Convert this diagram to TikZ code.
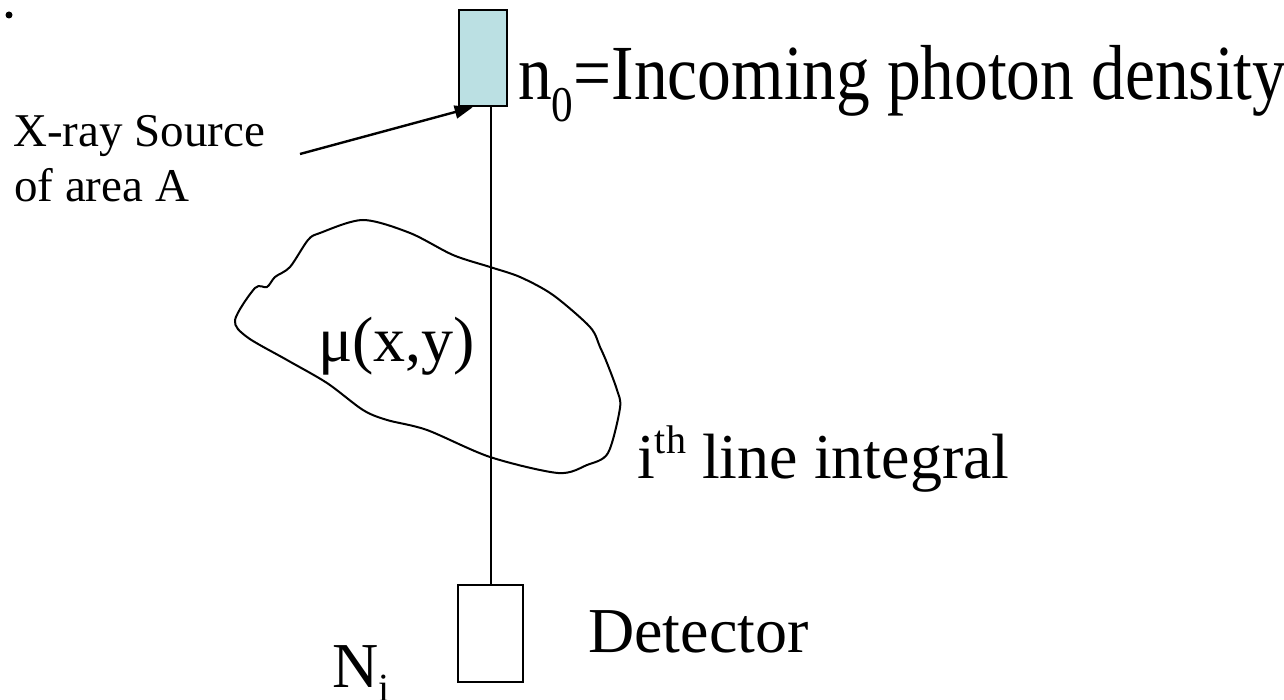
\documentclass[tikz,border=0pt]{standalone}
\usepackage{fontspec}
\setmainfont{Liberation Serif}
\usetikzlibrary{arrows.meta,calc}
\definecolor{srcfill}{RGB}{187,224,227}
\newcommand{\bigtxt}{\fontsize{64}{77}\selectfont}
\newcommand{\hugetxt}{\fontsize{78}{94}\selectfont}
\newcommand{\smalltxt}{\fontsize{47}{56}\selectfont}
\newcommand{\subtxt}{\fontsize{40}{40}\selectfont}
\newcommand{\hugesub}{\fontsize{50}{50}\selectfont}
\begin{document}
\begin{tikzpicture}[x=1pt,y=-1pt,
  boxnode/.style={draw, line width=2.6pt, inner sep=0pt},
  lbl/.style={inner sep=0pt, anchor=base west, font=\bigtxt},
  thinline/.style={line width=2pt}]
\useasboundingbox (0,0) rectangle (1284,700);
% boxes
\node[boxnode, fill=srcfill, minimum width=48pt, minimum height=96pt] (src) at (483,58) {};
\node[boxnode, minimum width=65pt, minimum height=97pt] (det) at (490.5,633.5) {};
% ray
\draw[thinline] (det.north) -- (det.north |- src.south);
% object
\draw[thinline] plot[smooth cycle, tension=0.5] coordinates {(235,320) (255,288) (267,287) (275,277) (290,267) (308,240) (320,233) (363,220) (410,233) (453,255) (490,267) (520,277) (553,295) (590,327) (600,347) (607,363) (617,390) (620,408) (608,453) (587,465) (558,473) (490,457) (427,430) (387,420) (363,410) (327,383) (287,360) (247,337)};
% labels
\node[lbl, font=\hugetxt] (n0) at (518,100) {\scalebox{0.865}[1]{n\raisebox{-0.28em}{\hugesub 0}=Incoming photon density}};
\node[lbl] (mu) at (318,361) {μ(x,y)};
\node[lbl] (ith) at (637,478) {i\raisebox{0.38em}{\subtxt th} line integral};
\node[lbl] (detl) at (588,652) {Detector};
\node[lbl] (ni) at (332,687) {N\raisebox{-0.22em}{\subtxt i}};
\node[lbl, font=\smalltxt] (xr1) at (13,147) {X-ray Source};
\node[lbl, font=\smalltxt] (xr2) at (14,202) {of area A};
\fill (9,15) circle (3.5);
% arrow
\coordinate (astart) at (300,154);
\draw[line width=2.4pt, -{Triangle[length=18pt,width=13pt]}] (astart) -- ($(src.south west)+(15,0)$);
\end{tikzpicture}
\end{document}
